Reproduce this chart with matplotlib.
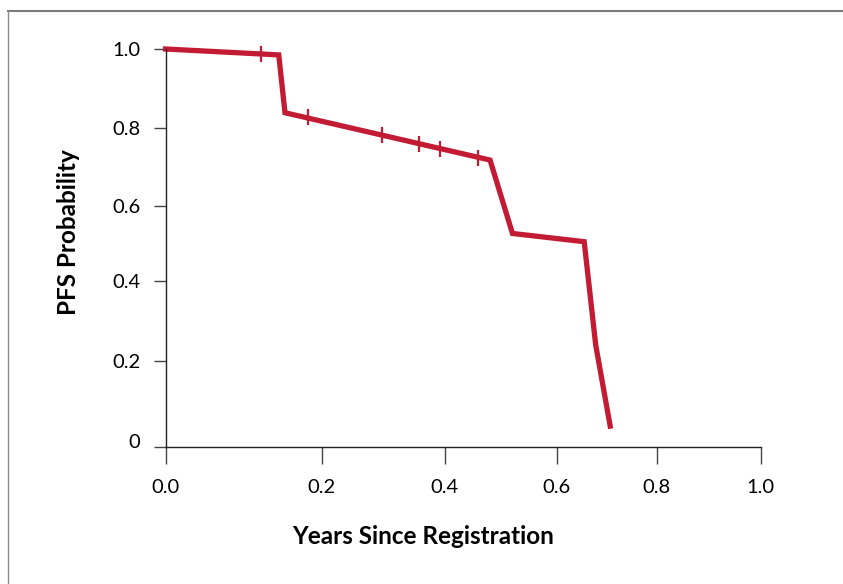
import numpy as np
import matplotlib
matplotlib.use("Agg")
import matplotlib.pyplot as plt
from matplotlib.lines import Line2D
from matplotlib.transforms import ScaledTranslation

# Kaplan-Meier style PFS curve
years = [0.0, 0.145, 0.153, 0.481, 0.521, 0.655, 0.678, 0.707]
pfs = [1.0, 0.985, 0.838, 0.717, 0.526, 0.504, 0.24, 0.048]

# censor marks
censor_years = [0.122, 0.183, 0.298, 0.359, 0.392, 0.459]
censor_pfs = [0.987, 0.826, 0.781, 0.757, 0.745, 0.722]

xticks = [0.0, 0.2, 0.4, 0.6, 0.8, 1.0]
xtick_labels = ["0.0", "0.2", "0.4", "0.6", "0.8", "1.0"]
yticks = [0.0, 0.2, 0.4, 0.6, 0.8, 1.0]
ytick_labels = ["0", "0.2", "0.4", "0.6", "0.8", "1.0"]

# the original axes are not evenly spaced, so map ticks to their drawn offsets
x_offsets = [0.0, 156.2, 279.2, 391.2, 491.2, 595.2]
y_offsets = [0.0, 85.7, 166.0, 241.0, 319.0, 397.7]


def make_scale(vals, offs):
    vals = np.asarray(vals, float)
    offs = np.asarray(offs, float)

    def fwd(v):
        v = np.asarray(v, float)
        out = np.interp(v, vals, offs)
        s0 = (offs[1] - offs[0]) / (vals[1] - vals[0])
        s1 = (offs[-1] - offs[-2]) / (vals[-1] - vals[-2])
        out = np.where(v < vals[0], offs[0] + (v - vals[0]) * s0, out)
        out = np.where(v > vals[-1], offs[-1] + (v - vals[-1]) * s1, out)
        return out

    def inv(o):
        o = np.asarray(o, float)
        out = np.interp(o, offs, vals)
        s0 = (vals[1] - vals[0]) / (offs[1] - offs[0])
        s1 = (vals[-1] - vals[-2]) / (offs[-1] - offs[-2])
        out = np.where(o < offs[0], vals[0] + (o - offs[0]) * s0, out)
        out = np.where(o > offs[-1], vals[-1] + (o - offs[-1]) * s1, out)
        return out

    return fwd, inv


W, H = 843, 584
fig = plt.figure(figsize=(W / 100, H / 100), dpi=100)
ax = fig.add_axes([165.5 / W, 1 - 446.7 / H, (760.7 - 165.5) / W, (446.7 - 49) / H])

ax.set_xscale("function", functions=make_scale(xticks, x_offsets))
ax.set_yscale("function", functions=make_scale(yticks, y_offsets))
ax.set_xlim(0, 1)
ax.set_ylim(0, 1)

red = "#C21B33"
ax.plot(years, pfs, color=red, lw=3.8, solid_joinstyle="miter", clip_on=False)
ax.plot(censor_years, censor_pfs, ls="none", marker="|", ms=11, mew=1.6,
        color=red, clip_on=False)

for s in ["top", "right"]:
    ax.spines[s].set_visible(False)
for s in ["left", "bottom"]:
    ax.spines[s].set_color("#222222")
    ax.spines[s].set_linewidth(1.0)

font = "Lato"
ax.set_xticks(xticks)
ax.set_xticklabels(xtick_labels, fontfamily=font, fontsize=14.5)
ax.set_yticks(yticks)
ax.set_yticklabels(ytick_labels, fontfamily=font, fontsize=14.5)
ax.tick_params(axis="x", direction="out", length=12, width=1.0, color="#444444", pad=11)
ax.tick_params(axis="y", direction="out", length=9, width=1.0, color="#444444", pad=9)
ax.minorticks_off()

# the "0" label sits a little above the x axis in the original
lab0 = ax.yaxis.get_major_ticks()[0].label1
lab0.set_transform(lab0.get_transform() + ScaledTranslation(0, 6 / 100, fig.dpi_scale_trans))

fig.text(423 / W, 1 - 537 / H, "Years Since Registration", ha="center", va="center",
         fontfamily=font, fontweight="bold", fontsize=17.5)
fig.text(68 / W, 1 - 232 / H, "PFS Probability", ha="center", va="center",
         rotation=90, fontfamily=font, fontweight="bold", fontsize=17.5)

# frame around the figure panel
fig.add_artist(Line2D([8 / W, 1.0], [1 - 10.5 / H, 1 - 10.5 / H], color="#7a7a7a", lw=1.5))
fig.add_artist(Line2D([8 / W, 8 / W], [1 - 10.5 / H, 0.0], color="#8a8a8a", lw=1.0))

fig.savefig("out.png", dpi=100)
